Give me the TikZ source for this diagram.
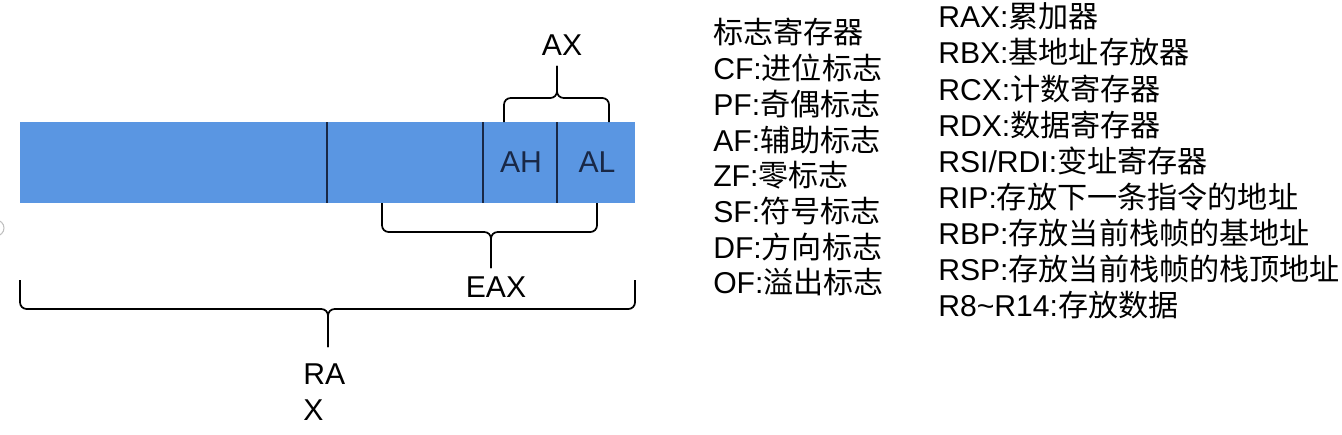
\documentclass[tikz,border=0pt]{standalone}
\usepackage{fontspec}
\setmainfont{Liberation Sans}
\newfontfamily\cjk{Noto Sans CJK SC}
\usetikzlibrary{positioning}

\definecolor{regblue}{RGB}{90,150,226}
\definecolor{regline}{RGB}{25,40,70}

\tikzset{
  regfill/.style={fill=regblue, draw=none},
  divider/.style={draw=regline, line width=1.1pt},
  bracket/.style={draw=black, line width=1.3pt, rounded corners=5pt},
  lbl/.style={font=\fontsize{22.6}{27}\selectfont, inner sep=0pt},
  cell/.style={lbl, text=regline},
  item/.style={lbl, anchor=base west},
}

\begin{document}
\begin{tikzpicture}[x=0.75pt, y=-0.75pt]
  \useasboundingbox (0,0) rectangle (1342,435);

  % screen artifact at the left edge
  \draw[black!25, line width=0.8pt] (-4,228) circle (8);

  % the 64-bit register
  \fill[regfill] (20,122) rectangle (635,203);
  \draw[divider] (327,122) -- (327,203);
  \draw[divider] (483,122) -- (483,203);
  \draw[divider] (557,122) -- (557,203);

  \node[cell] (ah) at (521,162) {AH};
  \node[cell] (al) at (597,162) {AL};

  % AX
  \draw[bracket] (504,122) -- (504,98) -- (557,98) -- (557,66);
  \draw[bracket] (609,122) -- (609,98) -- (557,98) -- (557,66);
  \node[lbl] (ax) at (562,45) {AX};

  % EAX
  \draw[bracket] (382,203) -- (382,232) -- (491,232) -- (491,268);
  \draw[bracket] (597,203) -- (597,232) -- (491,232) -- (491,268);
  \node[lbl] (eax) at (496,287) {EAX};

  % RAX
  \draw[bracket] (20,280) -- (20,309) -- (328,309) -- (328,347);
  \draw[bracket] (635,280) -- (635,309) -- (328,309) -- (328,347);
  \node[lbl, align=left, anchor=north west] (rax) at (303,363) {RA\\X};

  % flags
  \foreach \t [count=\i from 0] in {%
      {\cjk 标志寄存器},
      {CF:\cjk 进位标志},
      {PF:\cjk 奇偶标志},
      {AF:\cjk 辅助标志},
      {ZF:\cjk 零标志},
      {SF:\cjk 符号标志},
      {DF:\cjk 方向标志},
      {OF:\cjk 溢出标志}}
    \node[item] (flag\i) at (713,{44+35.7*\i}) {\t};

  % general registers
  \foreach \t [count=\i from 0] in {%
      {RAX:\cjk 累加器},
      {RBX:\cjk 基地址存放器},
      {RCX:\cjk 计数寄存器},
      {RDX:\cjk 数据寄存器},
      {RSI/RDI:\cjk 变址寄存器},
      {RIP:\cjk 存放下一条指令的地址},
      {RBP:\cjk 存放当前栈帧的基地址},
      {RSP:\cjk 存放当前栈帧的栈顶地址},
      {R8\char`~R14:\cjk 存放数据}}
    \node[item] (gpr\i) at (938,{28+36*\i}) {\t};
\end{tikzpicture}
\end{document}
